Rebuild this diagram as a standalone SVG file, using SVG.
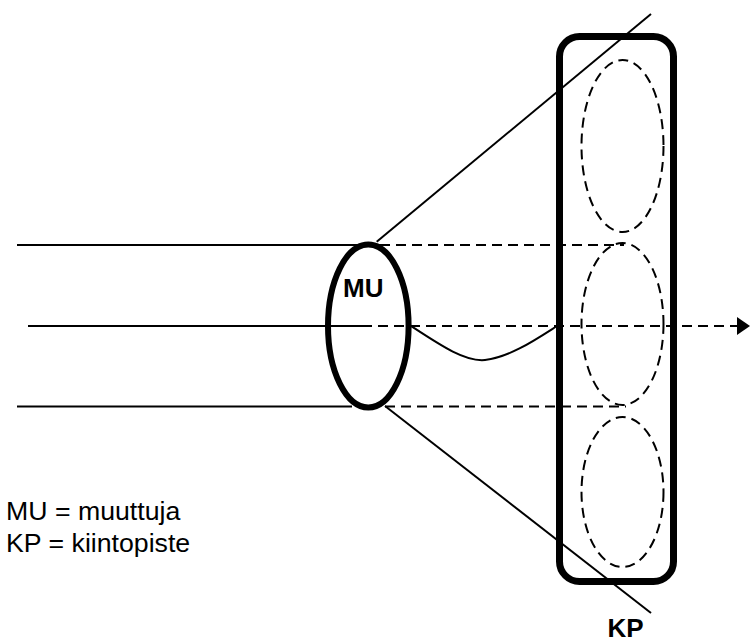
<svg xmlns="http://www.w3.org/2000/svg" width="750" height="644" viewBox="0 0 750 644">
<style>
.ln{stroke:#000;stroke-width:2;fill:none}
.ds{stroke:#000;stroke-width:2;fill:none;stroke-dasharray:10 6}
.bold{font-family:"Liberation Sans",Arial,sans-serif;font-weight:bold;font-size:26px;fill:#000}
.reg{font-family:"Liberation Sans",Arial,sans-serif;font-size:26.7px;fill:#000}
</style>
<rect width="750" height="644" fill="#fff"/>
<g id="connectors">
<line class="ln" x1="17" y1="245" x2="380" y2="245"/>
<line class="ds" x1="380" y1="245" x2="624" y2="245"/>
<line class="ln" x1="28" y1="326" x2="362" y2="326"/>
<line class="ds" x1="362" y1="326" x2="737" y2="326"/>
<polygon points="737,317 750,326 737,335" fill="#000"/>
<line class="ln" x1="17" y1="406.5" x2="352" y2="406.5"/>
<line class="ds" x1="385" y1="406.5" x2="626" y2="406.5"/>
<line class="ln" x1="376.7" y1="241.7" x2="651" y2="14"/>
<line class="ln" x1="385" y1="406" x2="651" y2="613"/>
<path class="ln" d="M411,326 C440,345 465,362 485,360 C510,357 535,340 557,326"/>
</g>
<g id="KP">
<ellipse class="ds" cx="622.5" cy="146" rx="41" ry="86"/>
<ellipse class="ds" cx="622.5" cy="324" rx="41" ry="81"/>
<ellipse class="ds" cx="622.5" cy="492" rx="41" ry="75"/>
<rect x="559.5" y="36.5" width="114" height="545" rx="20" fill="none" stroke="#000" stroke-width="7"/>
<text class="bold" x="607.5" y="637">KP</text>
</g>
<g id="MU">
<ellipse cx="368.3" cy="326" rx="40.3" ry="81.5" fill="none" stroke="#000" stroke-width="6"/>
<text class="bold" x="343" y="296.5">MU</text>
</g>
<g id="legend">
<text class="reg" x="6" y="520">MU = muuttuja</text>
<text class="reg" x="6" y="552">KP = kiintopiste</text>
</g>
</svg>
